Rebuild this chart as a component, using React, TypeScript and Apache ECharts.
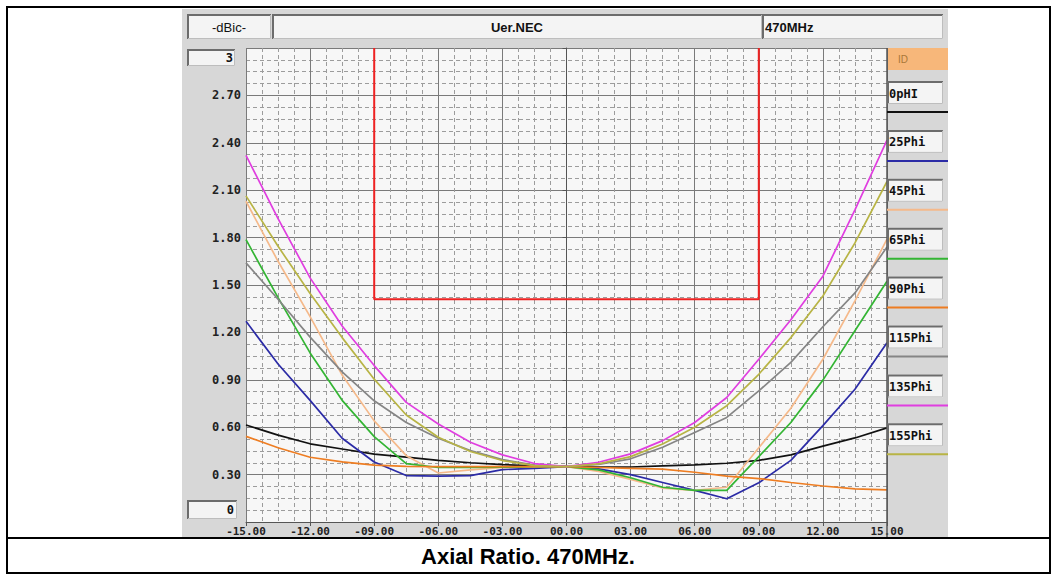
import React, { useEffect, useRef } from "react";
import * as echarts from "echarts";

// ---------- data ----------
const angles = [-15, -13.5, -12, -10.5, -9, -7.5, -6, -4.5, -3, -1.5, 0, 1.5, 3, 4.5, 6, 7.5, 9, 10.5, 12, 13.5, 15];

const phi0 = [0.614, 0.55, 0.495, 0.462, 0.43, 0.41, 0.39, 0.375, 0.363, 0.355, 0.35, 0.347, 0.348, 0.355, 0.362, 0.372, 0.39, 0.425, 0.48, 0.532, 0.596];
const phi25 = [1.27, 1.0, 0.77, 0.53, 0.38, 0.294, 0.29, 0.294, 0.332, 0.34, 0.35, 0.336, 0.3, 0.25, 0.2, 0.147, 0.248, 0.39, 0.61, 0.84, 1.135];
const phi45 = [2.03, 1.65, 1.3, 0.93, 0.64, 0.42, 0.31, 0.33, 0.345, 0.35, 0.35, 0.32, 0.27, 0.215, 0.2, 0.22, 0.47, 0.72, 1.03, 1.4, 1.79];
const phi65 = [1.787, 1.42, 1.07, 0.77, 0.54, 0.37, 0.345, 0.345, 0.347, 0.35, 0.35, 0.33, 0.28, 0.22, 0.2, 0.2, 0.414, 0.63, 0.898, 1.21, 1.524];
const phi90 = [0.542, 0.47, 0.41, 0.38, 0.36, 0.352, 0.35, 0.35, 0.35, 0.35, 0.35, 0.345, 0.34, 0.335, 0.315, 0.29, 0.275, 0.25, 0.228, 0.21, 0.203];
const phi115 = [1.64, 1.41, 1.17, 0.95, 0.767, 0.63, 0.53, 0.452, 0.395, 0.36, 0.35, 0.364, 0.4, 0.473, 0.567, 0.662, 0.83, 1.01, 1.236, 1.45, 1.74];
const phi135 = [2.32, 1.92, 1.545, 1.24, 0.99, 0.757, 0.62, 0.505, 0.425, 0.37, 0.35, 0.378, 0.431, 0.515, 0.63, 0.788, 1.03, 1.28, 1.556, 1.976, 2.417];
const phi155 = [2.064, 1.745, 1.446, 1.167, 0.904, 0.677, 0.536, 0.446, 0.389, 0.357, 0.35, 0.368, 0.414, 0.494, 0.6, 0.736, 0.935, 1.167, 1.43, 1.766, 2.155];

const seriesNames = ["0pHI", "25Phi", "45Phi", "65Phi", "90Phi", "115Phi", "135Phi", "155Phi"];
const seriesValues = [phi0, phi25, phi45, phi65, phi90, phi115, phi135, phi155];
const seriesColors = ["#111111", "#2b2ba6", "#f5b98a", "#33b533", "#ee7d22", "#858585", "#e03ee0", "#b8b445"];

// limit mask
const limitX = [-9, -9, 9, 9];
const limitY = [3, 1.41, 1.41, 3];

// texts
const unitText = "-dBic-";
const titleText = "Uer.NEC";
const freqText = "470MHz";
const idText = "ID";
const yTopLabel = "3";
const yBottomLabel = "0";
const captionText = "Axial Ratio. 470MHz.";

const MONO = "'DejaVu Sans Mono', monospace";
const SANS = "'Liberation Sans', Arial, sans-serif";

function box(x: number, y: number, w: number, h: number, fill = "#f4f4f4") {
  return [
    { type: "rect", z: 5, shape: { x, y, width: w, height: h }, style: { fill, stroke: "none" } },
    {
      type: "polyline",
      z: 6,
      shape: { points: [[x + 1, y + h], [x + 1, y + 1], [x + w, y + 1]] },
      style: { stroke: "#6c6c6c", lineWidth: 2, fill: "none" },
    },
    {
      type: "polyline",
      z: 6,
      shape: { points: [[x + 1, y + h - 0.5], [x + w - 0.5, y + h - 0.5], [x + w - 0.5, y + 1]] },
      style: { stroke: "#bdbdbd", lineWidth: 1, fill: "none" },
    },
  ];
}

export default function App() {
  const ref = useRef<HTMLDivElement>(null);

  useEffect(() => {
    if (!ref.current) return;
    const chart = echarts.init(ref.current, undefined, { renderer: "svg" });

    const graphics: any[] = [];
    // panel
    graphics.push({ type: "rect", z: -10, shape: { x: 182, y: 9, width: 766, height: 528 }, style: { fill: "#d7d7d7" } });
    graphics.push({ type: "rect", z: -9, shape: { x: 246, y: 48, width: 641, height: 474 }, style: { fill: "#f7f7f7" } });
    // header
    graphics.push(...box(187, 14, 84, 25));
    graphics.push(...box(272, 14, 490, 25));
    graphics.push(...box(762, 14, 181, 25));
    graphics.push({ type: "text", z: 7, x: 229, y: 27, style: { text: unitText, font: `13px ${SANS}`, fill: "#111", align: "center", verticalAlign: "middle" } });
    graphics.push({ type: "text", z: 7, x: 517, y: 27, style: { text: titleText, font: `bold 13px ${SANS}`, fill: "#111", align: "center", verticalAlign: "middle" } });
    graphics.push({ type: "text", z: 7, x: 765, y: 27, style: { text: freqText, font: `bold 13px ${SANS}`, fill: "#111", align: "left", verticalAlign: "middle" } });
    // y end boxes
    graphics.push(...box(187, 49, 48, 17));
    graphics.push({ type: "text", z: 7, x: 233, y: 58, style: { text: yTopLabel, font: `bold 12px ${MONO}`, fill: "#111", align: "right", verticalAlign: "middle" } });
    graphics.push(...box(187, 500, 50, 19));
    graphics.push({ type: "text", z: 7, x: 234, y: 510, style: { text: yBottomLabel, font: `bold 12px ${MONO}`, fill: "#111", align: "right", verticalAlign: "middle" } });
    // legend column
    graphics.push({ type: "rect", z: 5, shape: { x: 888, y: 48, width: 60, height: 22 }, style: { fill: "#f7b77a" } });
    graphics.push({ type: "text", z: 7, x: 898, y: 59, style: { text: idText, font: `10px ${SANS}`, fill: "#a87838", align: "left", verticalAlign: "middle" } });
    graphics.push({ type: "line", z: 6, shape: { x1: 887, y1: 48, x2: 887, y2: 537 }, style: { stroke: "#555", lineWidth: 1.5 } });
    seriesNames.forEach((name, i) => {
      const top = 81 + 48.9 * i;
      graphics.push(...box(887, top, 56, 23));
      graphics.push({ type: "text", z: 7, x: 889, y: top + 12.5, style: { text: name, font: `bold 12px ${MONO}`, fill: "#111", align: "left", verticalAlign: "middle" } });
      graphics.push({ type: "line", z: 6, shape: { x1: 887, y1: top + 31, x2: 948, y2: top + 31 }, style: { stroke: seriesColors[i], lineWidth: 2 } });
    });
    // outer frame
    const frame = { stroke: "#000", lineWidth: 2 };
    graphics.push({ type: "line", z: 8, shape: { x1: 6, y1: 7, x2: 1051, y2: 7 }, style: frame });
    graphics.push({ type: "line", z: 8, shape: { x1: 7, y1: 7, x2: 7, y2: 574 }, style: frame });
    graphics.push({ type: "line", z: 8, shape: { x1: 1050, y1: 7, x2: 1050, y2: 574 }, style: frame });
    graphics.push({ type: "line", z: 8, shape: { x1: 6, y1: 538, x2: 1051, y2: 538 }, style: frame });
    graphics.push({ type: "line", z: 8, shape: { x1: 6, y1: 573, x2: 1051, y2: 573 }, style: frame });
    // caption
    graphics.push({ type: "text", z: 8, x: 528, y: 556, style: { text: captionText, font: `bold 22px ${SANS}`, fill: "#000", align: "center", verticalAlign: "middle" } });

    const series: any[] = seriesNames.map((name, i) => ({
      name,
      type: "line",
      data: angles.map((a, k) => [a, seriesValues[i][k]]),
      symbol: "none",
      lineStyle: { color: seriesColors[i], width: 1.7 },
      itemStyle: { color: seriesColors[i] },
      z: 3,
    }));
    series.unshift({
      name: "mask",
      type: "line",
      data: limitX.map((x, k) => [x, limitY[k]]),
      symbol: "none",
      lineStyle: { color: "#ee2222", width: 2 },
      z: 2,
    });

    chart.setOption({
      animation: false,
      backgroundColor: "#ffffff",
      grid: { left: 246, top: 48, width: 641, height: 474, containLabel: false },
      xAxis: {
        type: "value",
        min: -15,
        max: 15,
        interval: 3,
        axisLine: { show: true, onZero: false, lineStyle: { color: "#555", width: 1 } },
        axisTick: { show: true, length: 4, lineStyle: { color: "#555" } },
        axisLabel: {
          margin: 4,
          color: "#222",
          fontFamily: MONO,
          fontSize: 11,
          fontWeight: "bold",
          formatter: (v: number) => (v < 0 ? "-" : "") + Math.abs(v).toFixed(2).padStart(5, "0"),
        },
        splitLine: { show: true, lineStyle: { color: "#7a7a7a", width: 1 } },
        minorTick: { show: false, splitNumber: 4 },
        minorSplitLine: { show: true, lineStyle: { color: "#9c9c9c", width: 1, type: [4, 3] } },
      },
      yAxis: {
        type: "value",
        min: 0,
        max: 3,
        interval: 0.3,
        axisLine: { show: true, lineStyle: { color: "#555", width: 1 } },
        axisTick: { show: true, length: 4, lineStyle: { color: "#555" } },
        axisLabel: {
          margin: 5,
          color: "#222",
          fontFamily: MONO,
          fontSize: 12,
          fontWeight: "bold",
          formatter: (v: number) => (Math.abs(v) < 1e-6 || Math.abs(v - 3) < 1e-6 ? "" : v.toFixed(2)),
        },
        splitLine: { show: true, lineStyle: { color: "#7a7a7a", width: 1 } },
        minorTick: { show: false, splitNumber: 4 },
        minorSplitLine: { show: true, lineStyle: { color: "#9c9c9c", width: 1, type: [4, 3] } },
      },
      graphic: { elements: graphics },
      series,
    });

    return () => chart.dispose();
  }, []);

  return <div ref={ref} style={{ position: "fixed", left: 0, top: 0, width: 1056, height: 575 }} />;
}
